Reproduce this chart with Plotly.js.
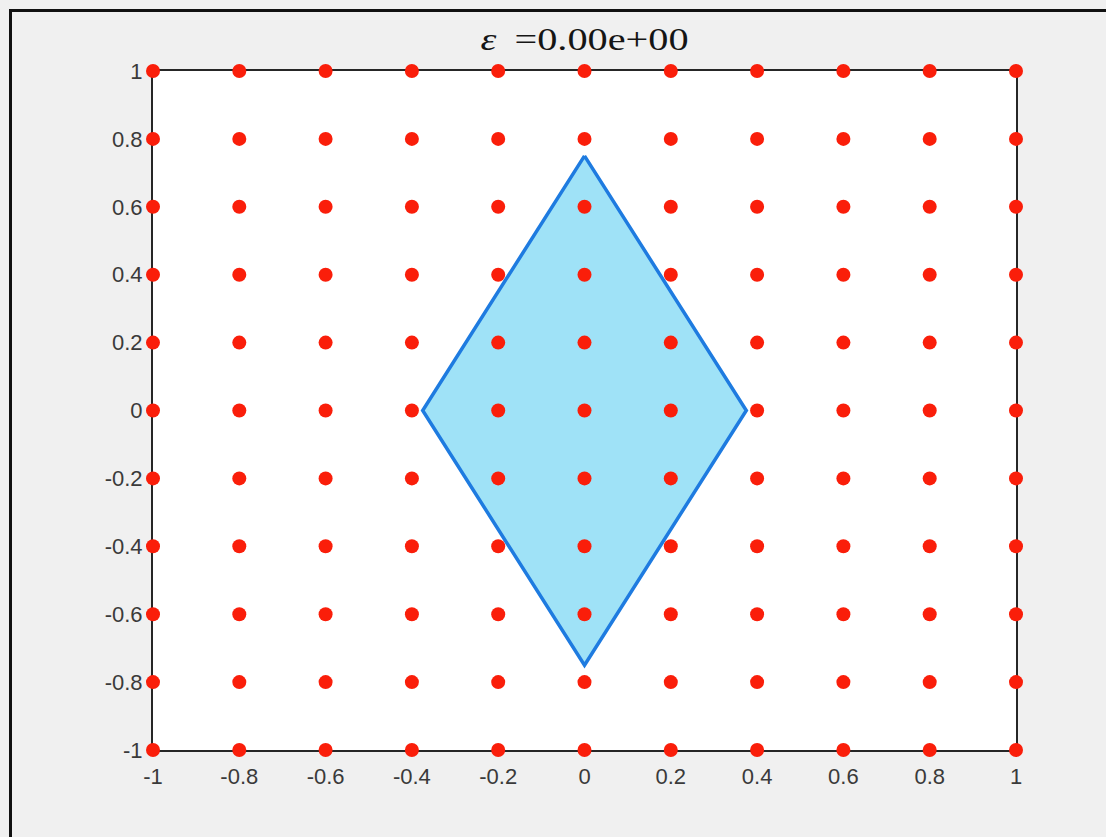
<!DOCTYPE html>
<html>
<head>
<meta charset="utf-8">
<script src="https://cdn.plot.ly/plotly-3.0.1.min.js"></script>
<style>
  html, body { margin: 0; padding: 0; background: #f0f0f0; }
  #wrap { position: relative; width: 1106px; height: 837px; overflow: hidden; }
  #plot { position: absolute; left: 0; top: 0; width: 1106px; height: 837px; }
  #frame { position: absolute; left: 9px; top: 9px; width: 1200px; height: 1000px;
           border-top: 3px solid #111; border-left: 3px solid #111; pointer-events: none; }
</style>
</head>
<body>
<div id="wrap">
  <div id="plot"></div>
  <div id="frame"></div>
</div>
<script>
// Sample grid coordinates
const gridX = [-1, -0.8, -0.6, -0.4, -0.2, 0, 0.2, 0.4, 0.6, 0.8, 1];
const gridY = [-1, -0.8, -0.6, -0.4, -0.2, 0, 0.2, 0.4, 0.6, 0.8, 1];

// Rhombus outline (closed)
const shapeX = [0, 0.375, 0, -0.375, 0];
const shapeY = [0.75, 0, -0.75, 0, 0.75];

// Axis ticks
const tickVals = [-1, -0.8, -0.6, -0.4, -0.2, 0, 0.2, 0.4, 0.6, 0.8, 1];
const tickText = ['-1', '-0.8', '-0.6', '-0.4', '-0.2', '0', '0.2', '0.4', '0.6', '0.8', '1'];

const epsilon = 0;
const epsText = epsilon.toExponential(2).replace(/e([+-])(\d)$/, 'e$10$2');
const titleText = '<i>\u03b5</i>\u2009 =' + epsText;

const px = [], py = [];
for (const y of gridY) for (const x of gridX) { px.push(x); py.push(y); }

const traces = [
  {
    x: shapeX, y: shapeY, type: 'scatter', mode: 'lines',
    fill: 'toself', fillcolor: '#9fe2f7',
    line: { color: '#1e7be0', width: 3.5 },
    hoverinfo: 'skip'
  },
  {
    x: px, y: py, type: 'scatter', mode: 'markers',
    marker: { color: '#fa1e0a', size: 14, line: { width: 0 } },
    cliponaxis: false
  }
];

const axisCommon = {
  range: [-1, 1],
  tickvals: tickVals, ticktext: tickText,
  ticks: 'inside', ticklen: 6, tickwidth: 1.5, tickcolor: '#262626',
  showline: true, linecolor: '#262626', linewidth: 2, mirror: 'ticks',
  showgrid: false, zeroline: false, layer: 'below traces',
  tickfont: { family: 'Liberation Sans, Arial, sans-serif', size: 22, color: '#3a3a3a' }
};

const layout = {
  width: 1106, height: 837,
  margin: { l: 153, r: 90, t: 71, b: 87 },
  paper_bgcolor: '#f0f0f0', plot_bgcolor: '#ffffff',
  showlegend: false,
  title: {
    text: titleText,
    font: { family: 'Liberation Serif, DejaVu Serif, serif', size: 31, color: '#151515' },
    x: 0.5, xref: 'paper', xanchor: 'center',
    y: 1, yref: 'paper', yanchor: 'bottom', pad: { b: 21 }
  },
  xaxis: Object.assign({}, axisCommon, { ticklabelstandoff: 6 }),
  yaxis: Object.assign({}, axisCommon, { ticklabelstandoff: 4 })
};

Plotly.newPlot('plot', traces, layout, { displayModeBar: false, staticPlot: true }).then(function (gd) {
  // widen the title glyphs around their centre, like the wide math font of the heading
  const t = gd.querySelector('.gtitle');
  if (t) {
    const bb = t.getBBox();
    const cx = bb.x + bb.width / 2;
    const prev = t.getAttribute('transform') || '';
    t.setAttribute('transform', prev + ' translate(' + cx + ',0) scale(1.3,1) translate(' + (-cx) + ',0)');
  }
});
</script>
</body>
</html>
